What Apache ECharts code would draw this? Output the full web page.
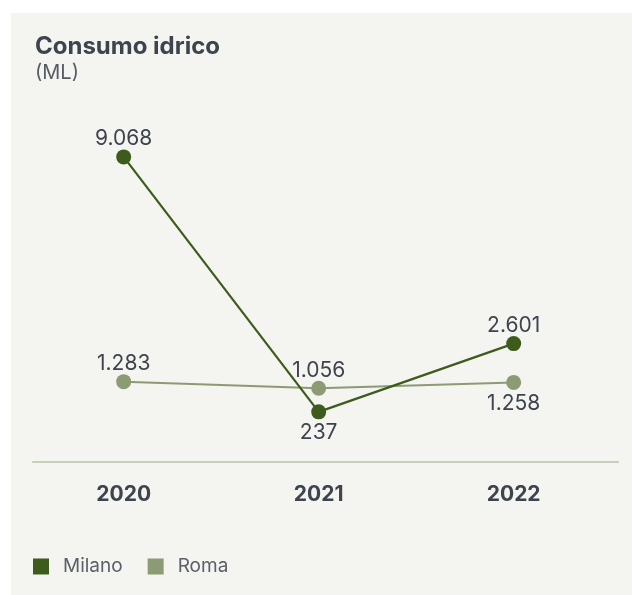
<!DOCTYPE html>
<html>
<head>
<meta charset="utf-8">
<script src="https://cdn.jsdelivr.net/npm/echarts@6/dist/echarts.min.js"></script>
<style>
  html, body { margin: 0; padding: 0; background: #ffffff; }
  #chart { position: absolute; left: 11px; top: 13px; width: 621px; height: 582px; }
</style>
</head>
<body>
<div id="chart"></div>
<script>
const categories = ['2020', '2021', '2022'];
const milano = [9068, 237, 2601];
const roma = [1283, 1056, 1258];
const milanoLabelPos = ['top', 'bottom', 'top'];
const romaLabelPos = ['top', 'top', 'bottom'];

const textColor = '#3d444e';
const fontFamily = 'Inter, Roboto, sans-serif';

function fmt(v) {
  return String(v).replace(/\B(?=(\d{3})+(?!\d))/g, '.');
}

function buildData(values, positions) {
  return values.map((v, i) => ({
    value: [i, v],
    label: { position: positions[i], distance: positions[i] === 'top' ? 0 : 3 }
  }));
}

const chart = echarts.init(document.getElementById('chart'));
chart.setOption({
  backgroundColor: '#f4f4f0',
  animation: false,
  title: {
    text: 'Consumo idrico',
    subtext: '(ML)',
    left: 19,
    top: 17,
    itemGap: 4,
    textStyle: { color: textColor, fontFamily, fontWeight: 'bold', fontSize: 24 },
    subtextStyle: { color: '#555b64', fontFamily, fontSize: 20 }
  },
  legend: {
    left: 22,
    top: 544,
    padding: 0,
    icon: 'rect',
    itemWidth: 16,
    itemHeight: 16,
    itemGap: 25,
    data: ['Milano', 'Roma'],
    textStyle: { color: '#5a5f68', fontFamily, fontSize: 19, padding: [0, 0, 0, 9] }
  },
  grid: { left: 22, right: 14, top: 117, bottom: 133 },
  xAxis: {
    type: 'value',
    min: -0.465,
    max: 2.535,
    splitLine: { show: false },
    axisTick: { show: false },
    axisLine: { show: true, onZero: false, lineStyle: { color: '#c7cfba', width: 2 } },
    axisLabel: {
      customValues: [0, 1, 2],
      formatter: v => categories[Math.round(v)] || '',
      color: textColor,
      fontFamily,
      fontWeight: 'bold',
      fontSize: 21,
      margin: 22
    }
  },
  yAxis: {
    type: 'value',
    min: -1500,
    max: 10000,
    show: false,
    splitLine: { show: false }
  },
  series: [
    {
      name: 'Roma',
      type: 'line',
      data: buildData(roma, romaLabelPos),
      symbol: 'circle',
      symbolSize: 15,
      color: '#8c9b73',
      lineStyle: { width: 2, color: '#8c9b73' },
      itemStyle: { color: '#8c9b73' },
      z: 2,
      label: {
        show: true,
        color: textColor,
        fontFamily,
        fontSize: 21,
        formatter: p => fmt(p.value[1])
      }
    },
    {
      name: 'Milano',
      type: 'line',
      data: buildData(milano, milanoLabelPos),
      symbol: 'circle',
      symbolSize: 15,
      color: '#3d5c1c',
      lineStyle: { width: 2.2, color: '#3d5c1c' },
      itemStyle: { color: '#3d5c1c' },
      z: 3,
      label: {
        show: true,
        color: textColor,
        fontFamily,
        fontSize: 21,
        formatter: p => fmt(p.value[1])
      }
    }
  ]
});
</script>
</body>
</html>
